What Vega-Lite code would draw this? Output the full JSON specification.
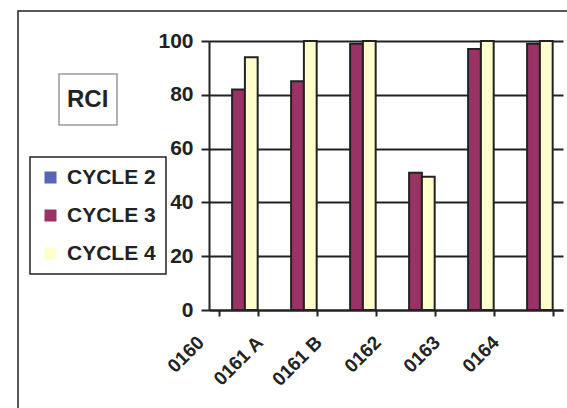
{
  "$schema": "https://vega.github.io/schema/vega-lite/v6.json",
  "width": 354,
  "height": 269,
  "autosize": {"type": "none"},
  "padding": {"left": 209, "top": 41, "right": 4, "bottom": 98},
  "background": "white",
  "config": {
    "view": {"stroke": null, "fill": "#C8C9CB"},
    "font": "Liberation Sans",
    "legend": {"strokeWidth": 1.5}
  },
  "data": {
    "values": [
      {"site": "0160", "cycle": "CYCLE 3", "value": 82},
      {"site": "0160", "cycle": "CYCLE 4", "value": 94},
      {"site": "0161 A", "cycle": "CYCLE 3", "value": 85},
      {"site": "0161 A", "cycle": "CYCLE 4", "value": 100},
      {"site": "0161 B", "cycle": "CYCLE 3", "value": 99},
      {"site": "0161 B", "cycle": "CYCLE 4", "value": 100},
      {"site": "0162", "cycle": "CYCLE 3", "value": 51},
      {"site": "0162", "cycle": "CYCLE 4", "value": 49.5},
      {"site": "0163", "cycle": "CYCLE 3", "value": 97},
      {"site": "0163", "cycle": "CYCLE 4", "value": 100},
      {"site": "0164", "cycle": "CYCLE 3", "value": 99},
      {"site": "0164", "cycle": "CYCLE 4", "value": 100}
    ]
  },
  "resolve": {"scale": {"shape": "independent"}, "legend": {"shape": "independent"}},
  "layer": [
    {
      "mark": {"type": "bar", "stroke": "#222222", "strokeWidth": 2},
      "encoding": {
        "x": {
          "field": "site", "type": "nominal", "sort": null,
          "scale": {"paddingInner": 0.35, "paddingOuter": 0.175},
          "axis": {
            "title": null, "labelAngle": -45, "labelAlign": "right", "labelBaseline": "middle",
            "labelPadding": 23, "labelOffset": -38, "labelFontSize": 19, "labelFontWeight": "bold",
            "labelFont": "Liberation Sans", "labelColor": "#222222",
            "tickBand": "extent", "tickSize": 6, "tickWidth": 2, "tickColor": "#222222",
            "domainColor": "#222222", "domainWidth": 2, "grid": false,
            "labelOverlap": false, "labelBound": false, "labelFlush": false
          }
        },
        "xOffset": {
          "field": "cycle", "type": "nominal",
          "scale": {"domain": ["CYCLE 2", "CYCLE 3", "CYCLE 4"], "paddingInner": 0, "paddingOuter": 0}
        },
        "y": {
          "field": "value", "type": "quantitative",
          "scale": {"domain": [0, 100], "nice": false},
          "axis": {
            "title": null, "values": [0, 20, 40, 60, 80, 100],
            "grid": true, "gridColor": "#222222", "gridWidth": 2, "gridOpacity": 1,
            "tickSize": 8, "tickWidth": 2, "tickColor": "#222222",
            "domainColor": "#222222", "domainWidth": 2,
            "labelPadding": 8, "labelFontSize": 21, "labelFontWeight": "bold",
            "labelColor": "#222222", "labelFont": "Liberation Sans"
          }
        },
        "color": {
          "field": "cycle", "type": "nominal",
          "scale": {"domain": ["CYCLE 2", "CYCLE 3", "CYCLE 4"], "range": ["#5566B8", "#993366", "#FFFFCC"]},
          "legend": {
            "orient": "none", "legendX": -179, "legendY": 116, "title": null,
            "padding": 10, "strokeColor": "#222222", "fillColor": "white",
            "symbolType": "square", "symbolSize": 144, "symbolStrokeColor": "#222222", "symbolStrokeWidth": 1,
            "symbolOpacity": 1, "symbolOffset": 0,
            "labelFontSize": 21, "labelFontWeight": "bold", "labelFont": "Liberation Sans", "labelColor": "#222222",
            "labelOffset": 6, "rowPadding": 16,
            "encode": {
              "symbols": {"update": {"fill": {"signal": "datum.value === 'CYCLE 3' ? '#800040' : datum.value === 'CYCLE 2' ? '#5566B8' : '#FAF8C8'"}}}
            }
          }
        }
      }
    },
    {
      "transform": [{"filter": "false"}],
      "mark": {"type": "point", "opacity": 0},
      "encoding": {
        "shape": {
          "datum": "RCI", "type": "nominal",
          "legend": {
            "orient": "none", "legendX": -150, "legendY": 33, "title": null,
            "padding": 8, "strokeColor": "#9A9A9A",
            "symbolSize": 1225, "symbolOpacity": 0, "symbolStrokeWidth": 0,
            "labelOffset": -35, "labelFontSize": 24, "labelFontWeight": "bold",
            "labelFont": "Liberation Sans", "labelColor": "#222222"
          }
        }
      }
    },
    {
      "transform": [{"filter": "false"}],
      "mark": {"type": "point", "opacity": 0},
      "encoding": {
        "shape": {
          "datum": "frame A", "type": "nominal",
          "legend": {
            "orient": "none", "legendX": -191, "legendY": -30, "title": null,
            "padding": 280, "strokeColor": "#222222",
            "symbolSize": 0, "symbolOpacity": 0, "symbolStrokeWidth": 0,
            "labelOffset": 0, "labelExpr": "''"
          }
        }
      }
    },
    {
      "transform": [{"filter": "false"}],
      "mark": {"type": "point", "opacity": 0},
      "encoding": {
        "shape": {
          "datum": "frame B", "type": "nominal",
          "legend": {
            "orient": "none", "legendX": -828, "legendY": -31, "title": null,
            "padding": 300, "strokeColor": "#222222",
            "symbolSize": 0, "symbolOpacity": 0, "symbolStrokeWidth": 0,
            "labelOffset": 0, "labelExpr": "''"
          }
        }
      }
    }
  ]
}
